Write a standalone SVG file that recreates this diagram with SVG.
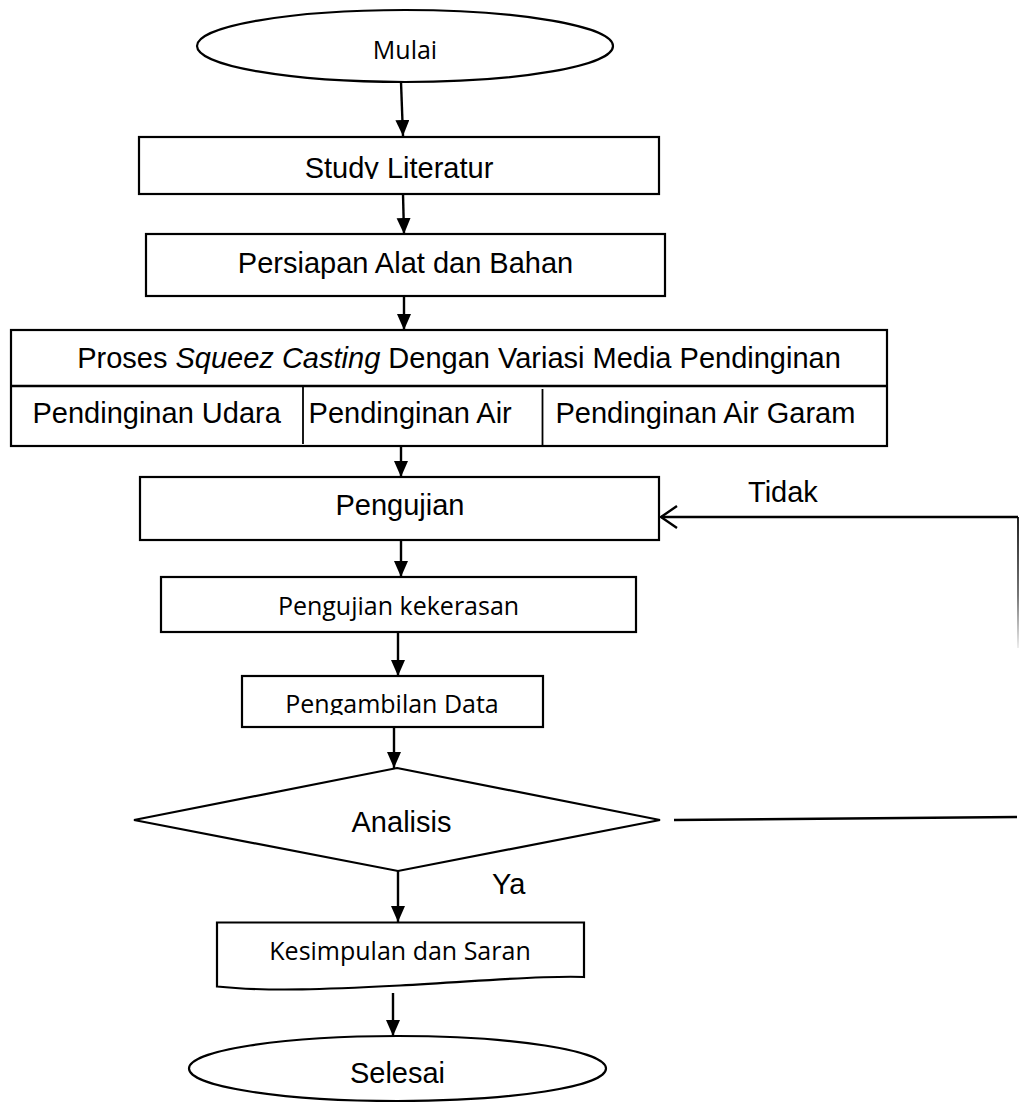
<svg xmlns="http://www.w3.org/2000/svg" width="1019" height="1104" viewBox="0 0 1019 1104">
<style>
.shape{fill:#fff;stroke:#000;stroke-width:2.2}
.ln{fill:none;stroke:#000;stroke-width:2.4}
.ar{font-family:"Liberation Sans",Arial,sans-serif;font-size:29px;fill:#000}
.cb{font-family:"Open Sans","Noto Sans",sans-serif;font-size:25px;fill:#000}
</style>
<defs>
<marker id="ah" markerUnits="userSpaceOnUse" markerWidth="17" markerHeight="16" refX="16" refY="7" orient="auto">
<path d="M0,0 L16,7 L0,14 Z" fill="#000"/>
</marker>
<linearGradient id="fade" gradientUnits="userSpaceOnUse" x1="0" y1="517" x2="0" y2="648">
<stop offset="0" stop-color="#222"/>
<stop offset="0.6" stop-color="#777"/>
<stop offset="1" stop-color="#eee"/>
</linearGradient>
<clipPath id="clipStudy"><rect x="0" y="140" width="700" height="39"/></clipPath>
<clipPath id="clipData"><rect x="0" y="680" width="700" height="35"/></clipPath>
</defs>

<g id="connectors">
<line class="ln" x1="401" y1="82" x2="403" y2="136" marker-end="url(#ah)"/>
<line class="ln" x1="403" y1="194" x2="404" y2="234" marker-end="url(#ah)"/>
<line class="ln" x1="404" y1="296" x2="404" y2="330" marker-end="url(#ah)"/>
<line class="ln" x1="401" y1="446" x2="401" y2="477" marker-end="url(#ah)"/>
<line class="ln" x1="401" y1="540" x2="401" y2="577" marker-end="url(#ah)"/>
<line class="ln" x1="398" y1="632" x2="398" y2="676" marker-end="url(#ah)"/>
<line class="ln" x1="394" y1="727" x2="394" y2="768" marker-end="url(#ah)"/>
<line class="ln" x1="398" y1="871" x2="398" y2="922" marker-end="url(#ah)"/>
<line class="ln" x1="393" y1="993" x2="393" y2="1036" marker-end="url(#ah)"/>
<line class="ln" x1="674" y1="820" x2="1017" y2="817"/>
<line x1="1018" y1="517" x2="1018" y2="648" stroke="url(#fade)" stroke-width="2"/>
<line class="ln" x1="1018" y1="517" x2="661" y2="517"/>
<polyline class="ln" points="677,506 661,517 677,528"/>
</g>

<g id="mulai">
<ellipse class="shape" cx="405" cy="46" rx="208" ry="36"/>
<text class="cb" x="405" y="59" text-anchor="middle">Mulai</text>
</g>

<g id="study">
<rect class="shape" x="139" y="137" width="520" height="57"/>
<text class="ar" x="399" y="178" text-anchor="middle" clip-path="url(#clipStudy)">Study Literatur</text>
</g>

<g id="persiapan">
<rect class="shape" x="146" y="234" width="519" height="62"/>
<text class="ar" x="405.5" y="273" text-anchor="middle">Persiapan Alat dan Bahan</text>
</g>

<g id="proses">
<rect class="shape" x="11" y="330" width="876" height="116"/>
<line class="ln" x1="11" y1="386" x2="887" y2="386"/>
<line x1="303" y1="386" x2="303" y2="444" stroke="#000" stroke-width="1.8"/>
<line x1="542.5" y1="389" x2="542.5" y2="446" stroke="#000" stroke-width="1.8"/>
<text class="ar" x="459" y="368" text-anchor="middle">Proses <tspan font-style="italic">Squeez Casting</tspan> Dengan Variasi Media Pendinginan</text>
<text class="ar" x="32.5" y="423">Pendinginan Udara</text>
<text class="ar" x="308.6" y="423">Pendinginan Air</text>
<text class="ar" x="555.5" y="423">Pendinginan Air Garam</text>
</g>

<g id="pengujian">
<rect class="shape" x="140" y="477" width="519" height="63"/>
<text class="ar" x="400" y="515" text-anchor="middle">Pengujian</text>
</g>

<g id="label-tidak">
<text class="ar" x="748" y="502">Tidak</text>
</g>

<g id="kekerasan">
<rect class="shape" x="161" y="577" width="475" height="55"/>
<text class="cb" x="398.5" y="615" text-anchor="middle">Pengujian kekerasan</text>
</g>

<g id="pengambilan">
<rect class="shape" x="242" y="676" width="301" height="51"/>
<text class="cb" x="392" y="713" text-anchor="middle" clip-path="url(#clipData)">Pengambilan Data</text>
</g>

<g id="analisis">
<polygon class="shape" points="397,768 660,820 398,871 134,820"/>
<text class="ar" x="401.5" y="832" text-anchor="middle">Analisis</text>
</g>

<g id="label-ya">
<text class="ar" x="492" y="894" font-size="28">Ya</text>
</g>

<g id="kesimpulan">
<path class="shape" d="M217,922.5 L584,922.5 L584,977 C540,975 470,982 400,985.5 C330,989 270,992 217,986.5 Z"/>
<text class="cb" x="400" y="960" text-anchor="middle">Kesimpulan dan Saran</text>
</g>

<g id="selesai">
<ellipse class="shape" cx="397.5" cy="1068.5" rx="208.5" ry="32.5"/>
<text class="ar" x="397.5" y="1083" text-anchor="middle">Selesai</text>
</g>
</svg>
